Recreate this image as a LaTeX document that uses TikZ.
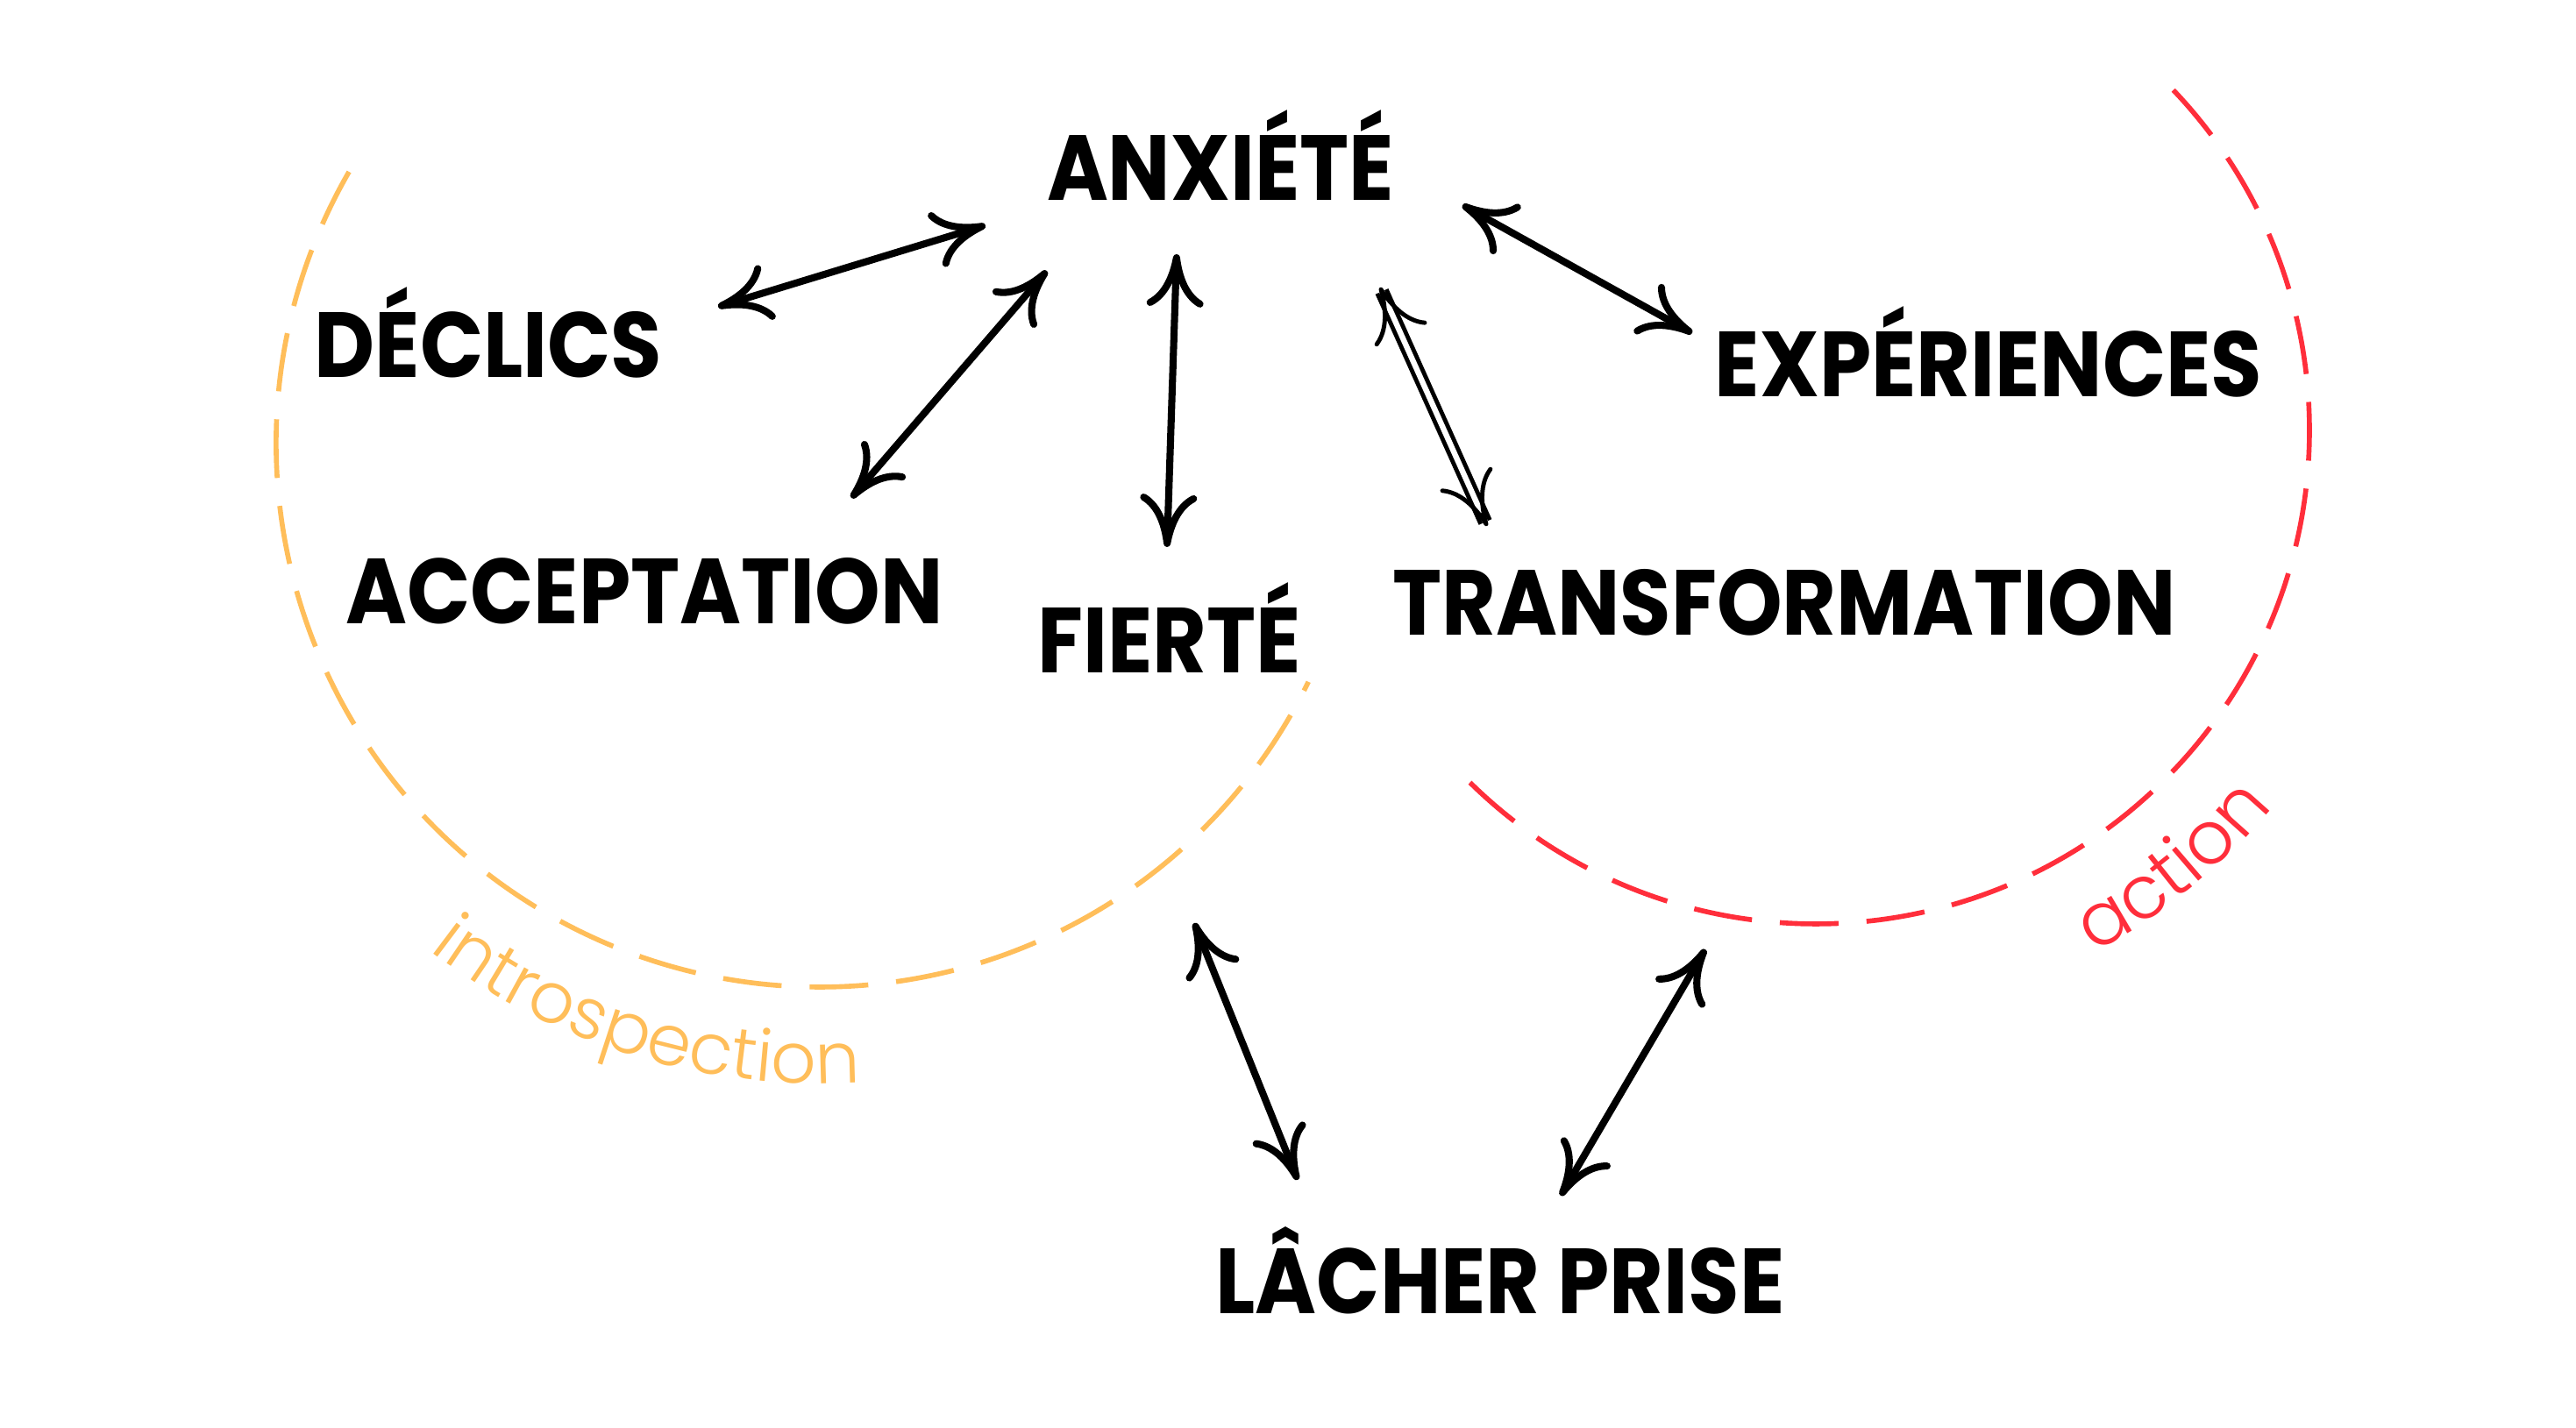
\documentclass[tikz,border=0pt]{standalone}
\usepackage{fontspec}
\usetikzlibrary{calc,arrows.meta,decorations.text}
\newfontfamily\markerfont{Poppins}[FakeStretch=0.9]
\newfontfamily\thinfont{Poppins Light}
\definecolor{introorange}{HTML}{FFBE5A}
\definecolor{actionred}{HTML}{FF2E3B}
\tikzset{
  word/.style={font=\markerfont\bfseries\fontsize{30}{36}\selectfont, anchor=base, inner sep=0pt},
  twoway/.style={line width=2.3pt, {Computer Modern Rightarrow[length=6mm,width=6.5mm]}-{Computer Modern Rightarrow[length=6mm,width=6.5mm]}},
  twoline/.style={twoway, double, double distance=1.8pt, line width=1.4pt},
  ring/.style={line width=1.6pt, dash pattern=on 0.67cm off 0.32cm},
}

\begin{document}
\begin{tikzpicture}
		%%%%% START %%%%%
		\useasboundingbox (0, 0) rectangle (29.38, 16.29);
		\fill[white] (0, 0) rectangle (29.38, 16.29);
		
		\coordinate (introC) at (9.35, 11.23);
		\coordinate (actionC) at (20.71, 11.38);
		
		% the two rings
		\draw[ring, color=introorange] ($(introC)+(150:6.2)$) arc (150:334:6.2);
		\draw[ring, color=actionred] ($(actionC)+(43.6:5.63)$) arc (43.6:-136.4:5.63);
		
		\path[decorate, decoration={text along path, text color=introorange,
			text={|\thinfont\fontsize{23}{27}\selectfont|introspection}}]
			($(introC)+(232.4:7.3)$) arc (232.4:290:7.3);
		\path[decorate, decoration={text along path, text color=actionred,
			text={|\thinfont\fontsize{24}{28}\selectfont|action}}]
			($(actionC)+(298:6.75)$) arc (298:340:6.75);
		
		% words
		\node[word] (anx) at (13.92, 14.00) {ANXIÉTÉ};
		\node[word] (decl) at (5.57, 11.98) {DÉCLICS};
		\node[word] (acc) at (7.35, 9.17) {ACCEPTATION};
		\node[word] (fier) at (13.34, 8.61) {FIERTÉ};
		\node[word] (trans) at (20.35, 9.04) {TRANSFORMATION};
		\node[word] (exp) at (22.68, 11.76) {EXPÉRIENCES};
		\node[word] (lach) at (17.11, 1.30) {LÂCHER PRISE};
		
		\coordinate (introtip) at (13.62, 5.76);
		\coordinate (actiontip) at (19.45, 5.46);
		
		% arrows
		\draw[twoway] ([shift={(2.62, 0.81)}]decl.base) -- ([shift={(-2.68, -0.28)}]anx.base);
		\draw[twoway] ([shift={(2.36, 1.44)}]acc.base) -- ([shift={(-1.98, -0.80)}]anx.base);
		\draw[twoway] ([shift={(-0.03, 1.44)}]fier.base) -- ([shift={(-0.50, -0.61)}]anx.base);
		\draw[twoline] ([shift={(-3.39, 1.25)}]trans.base) -- ([shift={(1.82, -0.99)}]anx.base);
		\draw[twoway] ([shift={(-3.38, 0.73)}]exp.base) -- ([shift={(2.76, -0.05)}]anx.base);
		
		\draw[twoway] ([shift={(-2.31, 1.53)}]lach.base) -- (introtip);
		\draw[twoway] ([shift={(0.69, 1.35)}]lach.base) -- (actiontip);
		
		%%%%% END %%%%%
	\end{tikzpicture}
\end{document}
